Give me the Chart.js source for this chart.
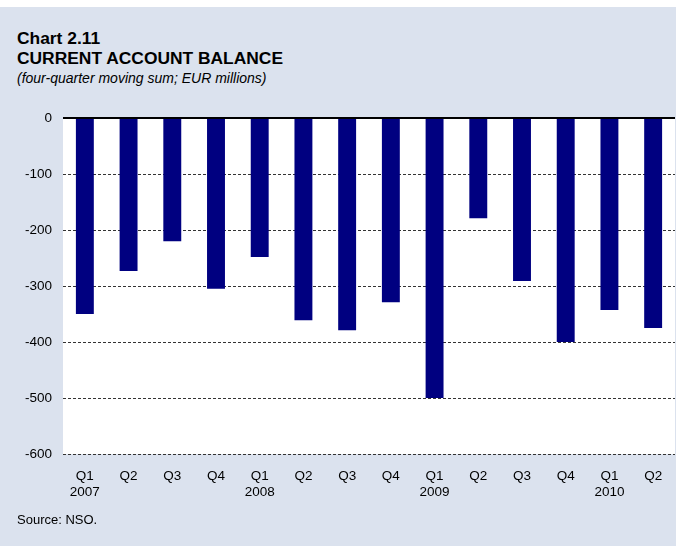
<!DOCTYPE html>
<html><head><meta charset="utf-8">
<script src="https://cdn.jsdelivr.net/npm/chart.js@4/dist/chart.umd.min.js"></script>
<style>
html,body{margin:0;padding:0;background:#fff;}
#wrap{position:relative;width:678px;height:546px;overflow:hidden;font-family:"Liberation Sans",Arial,sans-serif;color:#000;}
#bg{position:absolute;left:0;top:7px;width:676px;height:539px;background:#dbe2ee;}
#title{position:absolute;left:17px;top:28px;font-weight:bold;font-size:17.4px;line-height:20px;white-space:nowrap;}
#sub{position:absolute;left:17px;top:70px;font-style:italic;font-size:14px;line-height:17px;white-space:nowrap;}
#src{position:absolute;left:17px;top:512px;font-size:13px;line-height:15px;white-space:nowrap;}
#cv{position:absolute;left:0;top:0;}
</style></head>
<body>
<div id="wrap">
<div id="bg"></div>
<div id="title">Chart 2.11<br>CURRENT ACCOUNT BALANCE</div>
<div id="sub">(four-quarter moving sum; EUR millions)</div>
<canvas id="cv" width="678" height="546"></canvas>
<div id="src">Source: NSO.</div>
</div>
<script>
const quarters = ['Q1','Q2','Q3','Q4','Q1','Q2','Q3','Q4','Q1','Q2','Q3','Q4','Q1','Q2'];
const years = ['2007','','','','2008','','','','2009','','','','2010',''];
const balance = [-350,-273,-220,-305,-248,-361,-379,-329,-500,-179,-291,-400,-343,-375];
const yTicks = {min:-600, max:0, step:100};

const labels = quarters.map((q,i)=> years[i] ? [q, years[i]] : [q]);

const plotBg = {
  id:'plotBg',
  beforeDraw(chart){
    const {ctx, chartArea:a} = chart;
    ctx.save();
    ctx.fillStyle='#ffffff';
    ctx.fillRect(a.left, a.top, a.right-a.left, a.bottom-a.top);
    ctx.restore();
  },
  afterDatasetsDraw(chart){
    const {ctx, chartArea:a, scales} = chart;
    const y = scales.y.getPixelForValue(0);
    ctx.save();
    ctx.strokeStyle='#000';
    ctx.lineWidth=2;
    ctx.beginPath();
    ctx.moveTo(a.left, y);
    ctx.lineTo(a.right, y);
    ctx.stroke();
    ctx.restore();
  }
};

new Chart(document.getElementById('cv'), {
  type:'bar',
  data:{labels, datasets:[{data:balance, backgroundColor:'#000080', borderWidth:0, barPercentage:0.41, categoryPercentage:1}]},
  options:{
    responsive:false, animation:false,
    layout:{padding:{top:118, right:3, bottom:0, left:0}},
    plugins:{legend:{display:false}, tooltip:{enabled:false}},
    scales:{
      x:{
        grid:{display:false, drawTicks:false},
        border:{display:false},
        ticks:{color:'#000', font:{family:'"Liberation Sans", Arial, sans-serif', size:13.5, lineHeight:1.18}, padding:14, maxRotation:0, autoSkip:false},
        afterFit(s){ s.height = 92; }
      },
      y:{
        min:yTicks.min, max:yTicks.max,
        grid:{drawTicks:false, color:(c)=> c.tick && c.tick.value===0 ? 'rgba(0,0,0,0)' : '#333', lineWidth:1},
        border:{display:false, dash:[3,2]},
        ticks:{stepSize:yTicks.step, color:'#000', padding:11, font:{family:'"Liberation Sans", Arial, sans-serif', size:13.5}},
        afterFit(s){ s.width = 63; }
      }
    }
  },
  plugins:[plotBg]
});
</script>
</body></html>
